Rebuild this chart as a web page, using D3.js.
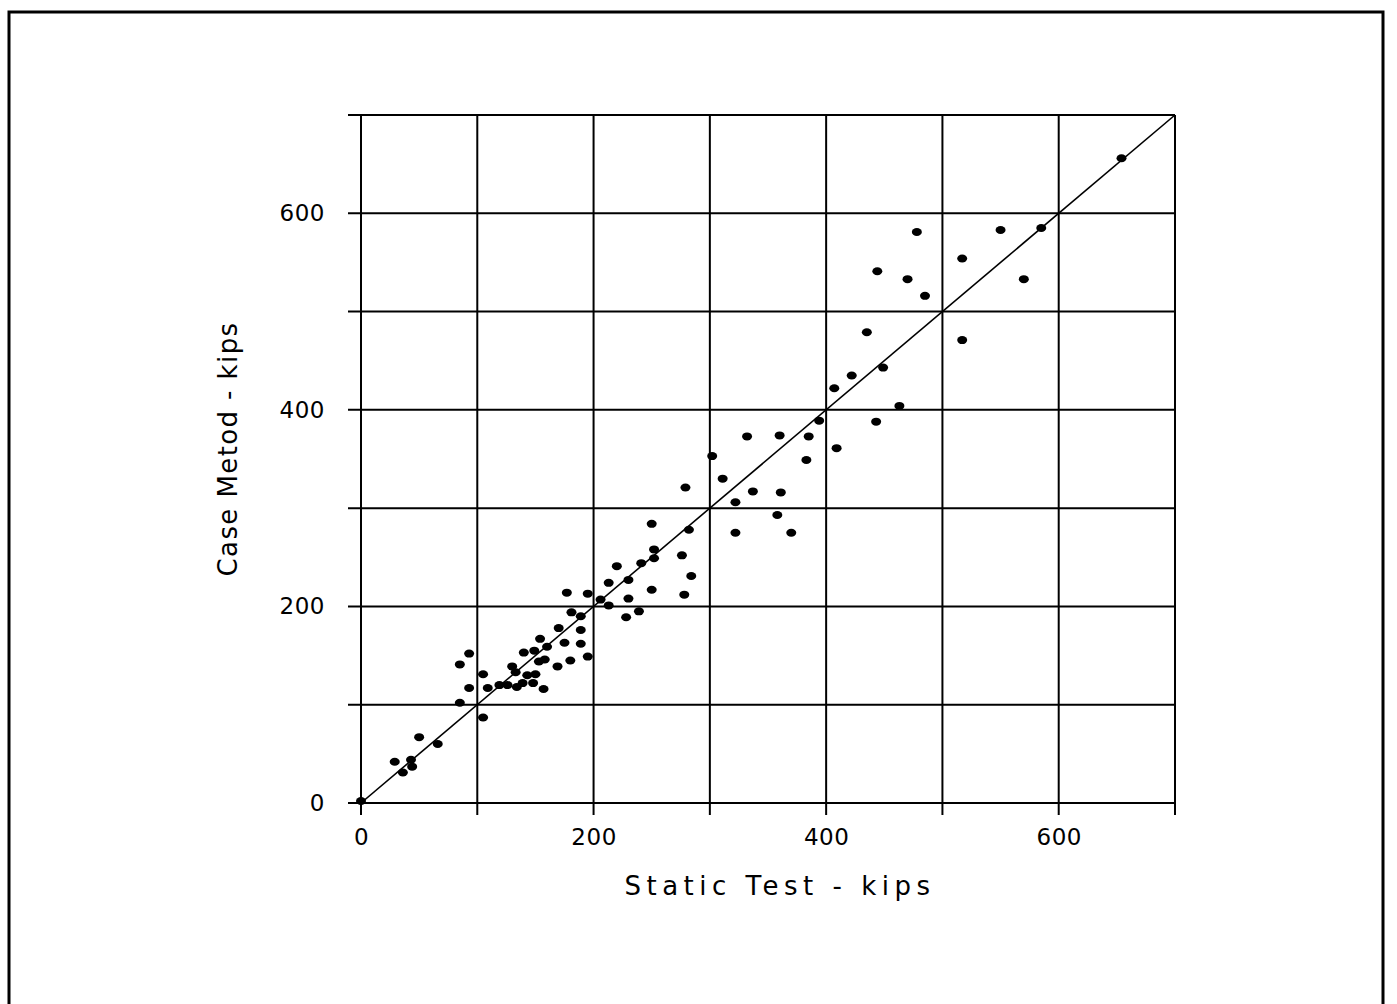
<!DOCTYPE html>
<meta charset="utf-8">
<style>
body { margin: 0; background: #fff; }
text { font-family: "DejaVu Sans", sans-serif; fill: #000; }
.grid line { stroke: #000; stroke-width: 2px; }
.axis path { display: none; }
.axis line { stroke: #000; stroke-width: 2px; }
.axis text { font-size: 23px; font-family: "DejaVu Sans", sans-serif; letter-spacing: 0.5px; }
</style>
<body>
<script src="https://cdn.jsdelivr.net/npm/d3@7"></script>
<script>

// data (kips)
var staticTest = [0, 29, 43, 44, 36, 50, 66, 85, 85, 93, 93, 105, 105, 109, 119, 126,
  130, 133, 134, 139, 143, 148, 150, 140, 149, 153, 158, 157, 154, 160, 169, 170,
  175, 180, 177, 181, 189, 189, 189, 195, 195, 206, 213, 213, 220, 228, 230, 230,
  239, 241, 250, 250, 252, 252, 276, 278, 279, 282, 284, 302, 311, 322, 322, 332,
  337, 358, 360, 361, 370, 383, 385, 394, 409, 407, 422, 435, 443, 449, 463, 444,
  470, 478, 485, 517, 517, 550, 570, 585, 654];
var caseMethod = [2, 42, 44, 37, 31, 67, 60, 102, 141, 152, 117, 131, 87, 117, 120, 120,
  139, 133, 118, 122, 130, 122, 131, 153, 155, 144, 146, 116, 167, 159, 139, 178,
  163, 145, 214, 194, 190, 176, 162, 149, 213, 207, 224, 201, 241, 189, 227, 208,
  195, 244, 217, 284, 258, 249, 252, 212, 321, 278, 231, 353, 330, 306, 275, 373,
  317, 293, 374, 316, 275, 349, 373, 389, 361, 422, 435, 479, 388, 443, 404, 541,
  533, 581, 516, 554, 471, 583, 533, 585, 656];
var tickValues = [0, 200, 400, 600];
var gridValues = [0, 100, 200, 300, 400, 500, 600, 700];

var margin = {top: 115, left: 361},
    width = 814,
    height = 688;

var svg = d3.select("body").append("svg")
    .attr("width", 1397)
    .attr("height", 1004);

// page frame
svg.append("path")
    .attr("d", "M9,1004 V12 H1383 V1004")
    .attr("fill", "none")
    .attr("stroke", "#000")
    .attr("stroke-width", 3);

var g = svg.append("g")
    .attr("transform", "translate(" + margin.left + "," + margin.top + ")");

var x = d3.scaleLinear().domain([0, 700]).range([0, width]);
var y = d3.scaleLinear().domain([0, 700]).range([height, 0]);

// grid lines, with ticks poking out left and bottom
g.append("g").attr("class", "grid")
  .selectAll("line").data(gridValues).enter().append("line")
    .attr("x1", function(d) { return x(d); })
    .attr("x2", function(d) { return x(d); })
    .attr("y1", y(700))
    .attr("y2", y(0) + 12);

g.append("g").attr("class", "grid")
  .selectAll("line").data(gridValues).enter().append("line")
    .attr("y1", function(d) { return y(d); })
    .attr("y2", function(d) { return y(d); })
    .attr("x1", -13)
    .attr("x2", x(700));

// tick labels
g.append("g")
    .attr("class", "axis")
    .attr("transform", "translate(0," + height + ")")
    .call(d3.axisBottom(x).tickValues(tickValues).tickSize(0).tickPadding(26));

g.append("g")
    .attr("class", "axis")
    .call(d3.axisLeft(y).tickValues(tickValues).tickSize(0).tickPadding(36));

// 1:1 line
g.append("line")
    .attr("x1", x(0)).attr("y1", y(0))
    .attr("x2", x(700)).attr("y2", y(700))
    .attr("stroke", "#000")
    .attr("stroke-width", 1.6);

// points
g.selectAll(".dot")
    .data(staticTest.map(function(d, i) { return [d, caseMethod[i]]; }))
  .enter().append("ellipse")
    .attr("class", "dot")
    .attr("cx", function(d) { return x(d[0]); })
    .attr("cy", function(d) { return y(d[1]); })
    .attr("rx", 5)
    .attr("ry", 4)
    .attr("fill", "#000");

// axis titles
svg.append("text")
    .attr("x", 780)
    .attr("y", 895)
    .attr("text-anchor", "middle")
    .style("font-size", "26px")
    .style("letter-spacing", "5.5px")
    .text("Static Test - kips");

svg.append("text")
    .attr("transform", "translate(237,449) rotate(-90)")
    .attr("text-anchor", "middle")
    .style("font-size", "26px")
    .style("letter-spacing", "1.4px")
    .text("Case Metod - kips");

</script>
</body>
